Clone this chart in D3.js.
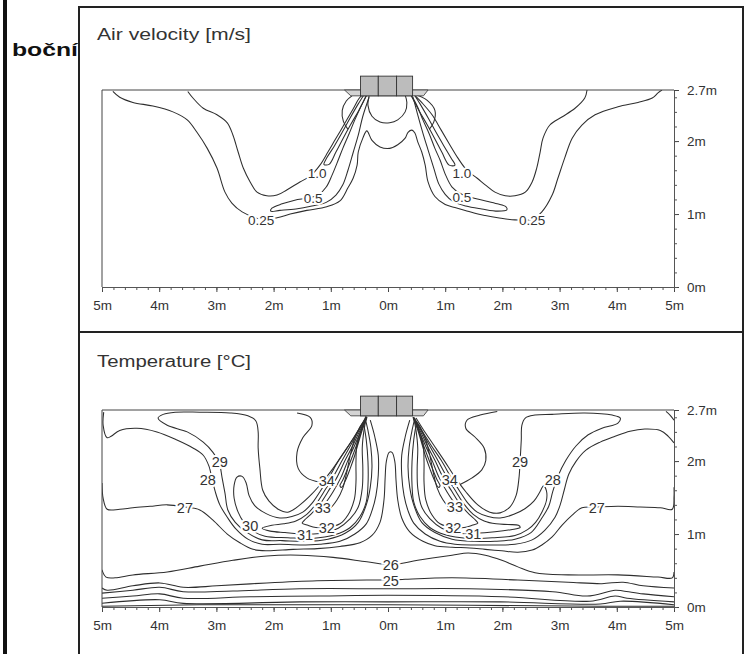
<!DOCTYPE html>
<html>
<head>
<meta charset="utf-8">
<script src="https://cdn.jsdelivr.net/npm/d3@7"></script>
<style>
  body { margin: 0; background: #fff; }
  svg { display: block; }
  text { font-family: "Liberation Sans", Arial, sans-serif; }
</style>
</head>
<body>
<svg id="chart" width="753" height="654"></svg>
<script>
// ---------- axis and text content ----------
const X_TICKS = [-5, -4, -3, -2, -1, 0, 1, 2, 3, 4, 5];   // room width, m
const Y_TICKS = [0, 1, 2, 2.7];                            // room height, m
const SIDE_CAPTION = "boční";
const TITLE_VELOCITY = "Air velocity [m/s]";
const TITLE_TEMPERATURE = "Temperature [°C]";

// diffuser geometry under the ceiling (m)
const diffuserEdges = [-0.48, -0.17, 0.15, 0.43];
const diffuserTop = 2.89, diffuserBase = 2.62;
const plateTopSpan = [-0.76, 0.70], plateBottomSpan = [-0.65, 0.62];

// ---------- air velocity isolines, [x m, height m] ----------
const vel025 = [[-4.81,2.68],[-4.69,2.60],[-4.46,2.53],[-4.11,2.48],[-3.76,2.40],[-3.51,2.29],[-3.34,2.12],[-3.16,1.90],[-2.99,1.63],[-2.85,1.30],[-2.73,1.15],[-2.55,1.03],[-2.22,0.93],[-1.94,0.95],[-1.71,1.00],[-1.42,1.05],[-1.07,1.10],[-0.84,1.18],[-0.70,1.36],[-0.61,1.49],[-0.54,1.67],[-0.52,1.85],[-0.44,2.04],[-0.37,2.14],[-0.28,2.01],[-0.14,1.92],[0.03,1.90],[0.17,1.95],[0.30,2.04],[0.35,2.12],[0.42,2.15],[0.47,2.11],[0.52,1.99],[0.59,1.85],[0.65,1.67],[0.70,1.44],[0.82,1.24],[1.00,1.13],[1.17,1.09],[1.35,1.05],[1.52,1.01],[1.70,0.98],[1.92,0.95],[2.22,0.92],[2.52,0.93],[2.69,1.03],[2.87,1.26],[2.97,1.49],[3.09,1.77],[3.22,2.04],[3.39,2.22],[3.62,2.36],[4.02,2.47],[4.37,2.53],[4.62,2.59],[4.72,2.66],[4.79,2.70]];
const velOuterL = [[-3.50,2.68],[-3.41,2.59],[-3.23,2.45],[-2.99,2.36],[-2.81,2.25],[-2.71,2.08],[-2.62,1.85],[-2.53,1.63],[-2.41,1.44],[-2.29,1.30],[-2.12,1.25],[-1.94,1.26],[-1.77,1.33],[-1.54,1.44],[-1.36,1.52],[-1.19,1.67],[-1.05,1.85],[-0.93,2.01],[-0.75,2.25],[-0.61,2.44],[-0.51,2.58],[-0.44,2.64]];
const velOuterR = [[3.48,2.70],[3.44,2.59],[3.27,2.45],[3.04,2.33],[2.83,2.22],[2.71,2.04],[2.66,1.85],[2.60,1.63],[2.52,1.44],[2.40,1.30],[2.22,1.25],[2.05,1.25],[1.87,1.30],[1.70,1.40],[1.56,1.49],[1.38,1.60],[1.22,1.77],[1.08,1.95],[0.93,2.15],[0.77,2.36],[0.60,2.52],[0.45,2.64]];
const vel10L = [[-0.40,2.66],[-0.52,2.51],[-0.66,2.32],[-0.80,2.12],[-0.94,1.93],[-1.07,1.77],[-1.12,1.68],[-1.03,1.68],[-0.91,1.85],[-0.79,2.03],[-0.65,2.23],[-0.51,2.42],[-0.37,2.63]];
const vel10R = [[0.44,2.66],[0.56,2.51],[0.70,2.32],[0.84,2.12],[0.98,1.93],[1.10,1.77],[1.17,1.67],[1.07,1.67],[0.94,1.85],[0.82,2.03],[0.68,2.23],[0.54,2.42],[0.40,2.63]];
const vel05L = [[-0.37,2.64],[-0.47,2.48],[-0.58,2.29],[-0.68,2.10],[-0.79,1.90],[-0.87,1.74],[-0.98,1.53],[-1.08,1.37],[-1.22,1.26],[-1.40,1.22],[-1.63,1.19],[-1.85,1.14],[-2.03,1.08],[-2.05,1.04],[-1.89,1.05],[-1.61,1.07],[-1.33,1.11],[-1.08,1.16],[-0.91,1.26],[-0.79,1.40],[-0.70,1.60],[-0.61,1.84],[-0.52,2.08],[-0.44,2.34],[-0.33,2.60]];
const vel05R = [[0.40,2.64],[0.51,2.48],[0.61,2.29],[0.72,2.10],[0.82,1.90],[0.91,1.74],[1.01,1.53],[1.12,1.37],[1.29,1.27],[1.49,1.22],[1.71,1.18],[1.91,1.14],[2.06,1.10],[2.08,1.06],[1.92,1.04],[1.64,1.07],[1.36,1.11],[1.14,1.17],[1.00,1.27],[0.89,1.41],[0.80,1.63],[0.70,1.88],[0.61,2.11],[0.52,2.36],[0.44,2.60]];
const velLobeL = [[-0.63,2.62],[-0.73,2.55],[-0.80,2.42],[-0.78,2.27],[-0.70,2.16]];
const velLobeR = [[0.50,2.63],[0.68,2.56],[0.82,2.42],[0.80,2.26],[0.72,2.16]];
const velCore = [[-0.33,2.62],[-0.35,2.49],[-0.28,2.34],[-0.14,2.26],[0.03,2.25],[0.17,2.29],[0.30,2.40],[0.33,2.53],[0.30,2.63]];
const velLabels = [
  {t:"1.0", x:-1.24, y:1.56}, {t:"0.5", x:-1.31, y:1.22}, {t:"0.25", x:-2.22, y:0.92},
  {t:"1.0", x:1.29, y:1.56},  {t:"0.5", x:1.29, y:1.23},  {t:"0.25", x:2.52, y:0.92}
];

// ---------- temperature isotherms, [x m, height m] ----------
const t25 = [[-5.00,0.26],[-4.91,0.23],[-4.46,0.29],[-3.99,0.33],[-3.58,0.27],[-2.99,0.29],[-2.12,0.33],[-1.24,0.36],[-0.37,0.37],[0.05,0.37],[0.30,0.38],[1.12,0.40],[2.27,0.37],[3.15,0.34],[3.74,0.32],[4.11,0.34],[4.46,0.29],[5.00,0.26]];
const t26 = [[-5.00,0.51],[-4.93,0.41],[-4.77,0.40],[-4.46,0.44],[-3.86,0.48],[-3.29,0.56],[-2.71,0.64],[-2.12,0.70],[-1.54,0.71],[-0.96,0.68],[-0.37,0.62],[0.05,0.58],[0.52,0.64],[1.12,0.71],[1.40,0.74],[1.70,0.71],[1.99,0.64],[2.27,0.55],[2.57,0.47],[3.15,0.44],[4.02,0.44],[4.72,0.41],[4.97,0.40],[5.00,0.48]];
const t24 = [[-5.00,0.19],[-4.46,0.23],[-3.99,0.27],[-3.58,0.21],[-2.71,0.22],[-1.54,0.25],[0.00,0.25],[1.43,0.25],[2.88,0.21],[3.48,0.15],[3.97,0.23],[4.11,0.22],[4.46,0.18],[5.00,0.14]];
const t23 = [[-5.00,0.12],[-4.46,0.15],[-3.99,0.18],[-3.58,0.12],[-2.41,0.14],[-1.19,0.15],[0.00,0.16],[2.01,0.14],[3.53,0.08],[3.97,0.15],[4.18,0.12],[5.00,0.07]];
const t22 = [[-5.00,0.05],[-3.99,0.10],[-3.58,0.05],[-1.54,0.07],[0.00,0.07],[1.96,0.07],[3.71,0.04],[4.06,0.08],[5.00,0.03]];
const t21 = [[-5.00,0.01],[-3.29,0.03],[0.00,0.03],[3.71,0.01],[5.00,0.01]];
const t27 = [[-5.00,1.70],[-4.98,1.49],[-4.91,1.34],[-4.69,1.34],[-4.46,1.36],[-4.16,1.38],[-3.86,1.40],[-3.55,1.37],[-3.29,1.33],[-3.06,1.19],[-2.81,1.00],[-2.59,0.88],[-2.36,0.79],[-2.12,0.77],[-1.66,0.79],[-1.24,0.80],[-0.84,0.83],[-0.49,0.88],[-0.28,0.98],[-0.14,1.16],[-0.07,1.47],[-0.05,1.77],[-0.03,1.99],[0.02,2.12],[0.07,2.12],[0.12,1.99],[0.14,1.74],[0.17,1.47],[0.24,1.22],[0.38,1.03],[0.61,0.90],[0.82,0.84],[1.12,0.82],[1.43,0.81],[1.70,0.79],[1.99,0.77],[2.27,0.75],[2.52,0.78],[2.69,0.85],[2.87,0.96],[3.04,1.12],[3.22,1.26],[3.39,1.36],[3.65,1.37],[4.02,1.38],[4.41,1.37],[4.76,1.36],[4.97,1.34],[5.00,1.51],[5.00,1.64]];
const t28L = [[-4.97,2.67],[-4.98,2.49],[-4.91,2.32],[-4.84,2.34],[-4.69,2.42],[-4.39,2.45],[-4.04,2.40],[-3.69,2.29],[-3.41,2.18],[-3.23,2.08],[-3.13,1.93],[-3.08,1.77],[-3.02,1.58],[-2.94,1.40],[-2.81,1.23],[-2.66,1.07],[-2.45,0.93],[-2.20,0.86],[-1.89,0.86],[-1.54,0.85],[-1.19,0.86],[-0.84,0.90],[-0.58,1.00],[-0.38,1.14],[-0.28,1.32],[-0.21,1.53],[-0.17,1.81],[-0.17,2.08],[-0.23,2.33],[-0.31,2.56]];
const t28R = [[5.00,2.25],[4.90,2.34],[4.76,2.42],[4.49,2.44],[4.23,2.41],[3.97,2.34],[3.71,2.26],[3.46,2.15],[3.29,2.00],[3.16,1.82],[3.08,1.60],[3.01,1.40],[2.92,1.23],[2.74,1.05],[2.52,0.92],[2.22,0.86],[1.87,0.85],[1.52,0.85],[1.17,0.86],[0.91,0.90],[0.65,1.00],[0.45,1.15],[0.35,1.32],[0.28,1.53],[0.24,1.81],[0.24,2.08],[0.30,2.33],[0.38,2.56]];
const t28Corner = [[4.86,2.68],[4.93,2.63],[5.00,2.56]];
const t29L = [[-0.38,2.62],[-0.45,2.51],[-0.59,2.33],[-0.77,2.12],[-0.96,1.90],[-1.15,1.71],[-1.33,1.55],[-1.54,1.40],[-1.75,1.30],[-1.92,1.34],[-2.08,1.45],[-2.19,1.60],[-2.24,1.90],[-2.27,2.18],[-2.27,2.40],[-2.31,2.55],[-2.45,2.62],[-2.76,2.66],[-3.29,2.67],[-3.72,2.67],[-3.93,2.64],[-4.02,2.59],[-3.86,2.49],[-3.51,2.40],[-3.23,2.26],[-3.06,2.12],[-2.95,1.97],[-2.90,1.77],[-2.85,1.56],[-2.80,1.33],[-2.67,1.16],[-2.48,1.03],[-2.20,0.92],[-1.85,0.91],[-1.45,0.90],[-1.05,0.93],[-0.75,1.01],[-0.52,1.16],[-0.38,1.40],[-0.31,1.64],[-0.28,1.92],[-0.30,2.19],[-0.35,2.42],[-0.40,2.59]];
const t29R = [[0.49,2.59],[0.61,2.44],[0.79,2.23],[0.98,2.01],[1.17,1.78],[1.36,1.58],[1.57,1.40],[1.78,1.30],[1.96,1.29],[2.13,1.37],[2.24,1.53],[2.29,1.77],[2.31,2.01],[2.33,2.29],[2.34,2.49],[2.40,2.59],[2.57,2.63],[2.87,2.64],[3.44,2.66],[3.92,2.63],[4.06,2.59],[4.02,2.52],[3.74,2.45],[3.50,2.36],[3.29,2.21],[3.11,2.01],[2.97,1.79],[2.88,1.58],[2.81,1.38],[2.69,1.22],[2.50,1.02],[2.22,0.93],[1.87,0.90],[1.52,0.90],[1.12,0.93],[0.82,1.02],[0.59,1.16],[0.45,1.40],[0.38,1.64],[0.35,1.92],[0.37,2.19],[0.42,2.42],[0.47,2.59]];
const t30L = [[-0.38,2.60],[-0.52,2.42],[-0.68,2.22],[-0.86,2.01],[-1.03,1.78],[-1.19,1.58],[-1.33,1.42],[-1.49,1.30],[-1.68,1.24],[-1.89,1.22],[-2.13,1.28],[-2.33,1.39],[-2.43,1.53],[-2.48,1.70],[-2.55,1.79],[-2.64,1.78],[-2.69,1.67],[-2.69,1.49],[-2.62,1.30],[-2.52,1.16],[-2.38,1.05],[-2.15,0.97],[-1.75,0.95],[-1.33,0.94],[-0.93,0.99],[-0.66,1.09],[-0.49,1.24],[-0.38,1.44],[-0.35,1.67],[-0.35,1.99],[-0.38,2.29],[-0.42,2.49]];
const t30R = [[0.45,2.60],[0.59,2.42],[0.75,2.22],[0.93,2.01],[1.10,1.78],[1.26,1.58],[1.40,1.42],[1.56,1.30],[1.75,1.24],[1.96,1.22],[2.20,1.27],[2.40,1.35],[2.55,1.45],[2.65,1.57],[2.72,1.66],[2.77,1.59],[2.77,1.46],[2.69,1.30],[2.58,1.16],[2.44,1.06],[2.22,0.98],[1.82,0.95],[1.40,0.94],[1.00,0.99],[0.73,1.09],[0.56,1.24],[0.45,1.44],[0.42,1.67],[0.42,1.99],[0.45,2.29],[0.49,2.49]];
const t31L = [[-0.37,2.60],[-0.51,2.42],[-0.65,2.22],[-0.80,2.01],[-0.96,1.78],[-1.12,1.58],[-1.26,1.41],[-1.42,1.27],[-1.61,1.18],[-1.82,1.14],[-2.03,1.12],[-2.20,1.08],[-2.06,1.04],[-1.80,1.02],[-1.45,1.00],[-1.15,1.01],[-0.87,1.08],[-0.66,1.21],[-0.52,1.37],[-0.45,1.63],[-0.44,1.90],[-0.45,2.18],[-0.42,2.42],[-0.38,2.59]];
const t31R = [[0.44,2.60],[0.58,2.42],[0.72,2.22],[0.87,2.01],[1.03,1.78],[1.19,1.58],[1.33,1.41],[1.49,1.27],[1.68,1.18],[1.89,1.14],[2.10,1.13],[2.28,1.12],[2.31,1.09],[2.15,1.06],[1.87,1.03],[1.52,1.01],[1.22,1.01],[0.94,1.08],[0.73,1.21],[0.59,1.37],[0.52,1.63],[0.51,1.90],[0.52,2.18],[0.49,2.42],[0.45,2.59]];
const t32L = [[-0.37,2.60],[-0.49,2.42],[-0.61,2.22],[-0.75,2.01],[-0.89,1.78],[-1.05,1.58],[-1.19,1.41],[-1.35,1.27],[-1.46,1.19],[-1.50,1.15],[-1.40,1.12],[-1.26,1.09],[-1.07,1.09],[-0.84,1.14],[-0.70,1.26],[-0.59,1.47],[-0.56,1.71],[-0.56,1.99],[-0.54,2.25],[-0.45,2.45],[-0.38,2.59]];
const t32R = [[0.44,2.60],[0.56,2.42],[0.68,2.22],[0.82,2.01],[0.96,1.78],[1.12,1.58],[1.26,1.41],[1.42,1.27],[1.53,1.19],[1.57,1.15],[1.47,1.12],[1.33,1.09],[1.14,1.09],[0.91,1.14],[0.77,1.26],[0.66,1.47],[0.63,1.71],[0.63,1.99],[0.61,2.25],[0.52,2.45],[0.45,2.59]];
const t33L = [[-0.37,2.60],[-0.47,2.42],[-0.58,2.22],[-0.70,2.01],[-0.82,1.78],[-0.96,1.58],[-1.10,1.42],[-1.22,1.33],[-1.19,1.29],[-1.03,1.34],[-0.89,1.47],[-0.79,1.63],[-0.72,1.85],[-0.66,2.08],[-0.59,2.29],[-0.49,2.47],[-0.38,2.59]];
const t33R = [[0.44,2.60],[0.54,2.42],[0.65,2.22],[0.77,2.01],[0.89,1.78],[1.03,1.58],[1.17,1.42],[1.29,1.33],[1.26,1.29],[1.10,1.34],[0.96,1.47],[0.86,1.63],[0.79,1.85],[0.73,2.08],[0.66,2.29],[0.56,2.47],[0.45,2.59]];
const t34L = [[-0.37,2.60],[-0.44,2.45],[-0.53,2.26],[-0.62,2.07],[-0.71,1.89],[-0.79,1.74],[-0.84,1.66],[-0.81,1.64],[-0.74,1.74],[-0.66,1.90],[-0.58,2.08],[-0.51,2.27],[-0.44,2.45],[-0.37,2.59]];
const t34R = [[0.44,2.60],[0.51,2.45],[0.60,2.26],[0.69,2.07],[0.78,1.89],[0.86,1.74],[0.91,1.66],[0.88,1.64],[0.81,1.74],[0.73,1.90],[0.65,2.08],[0.58,2.27],[0.51,2.45],[0.44,2.59]];
const tLobeL = [[-1.59,2.66],[-1.36,2.60],[-1.33,2.49],[-1.49,2.32],[-1.59,2.12],[-1.57,1.90],[-1.42,1.77],[-1.19,1.71]];
const tLobeR = [[1.91,2.68],[1.61,2.63],[1.38,2.56],[1.36,2.45],[1.52,2.33],[1.68,2.18],[1.71,2.01],[1.64,1.88],[1.47,1.77],[1.26,1.68]];
const tempLabels = [
  {t:"29", x:-2.94, y:1.99}, {t:"28", x:-3.15, y:1.74}, {t:"27", x:-3.55, y:1.36},
  {t:"30", x:-2.41, y:1.12}, {t:"31", x:-1.45, y:0.99}, {t:"32", x:-1.07, y:1.08},
  {t:"33", x:-1.14, y:1.36}, {t:"34", x:-1.07, y:1.73},
  {t:"26", x:0.05, y:0.58},  {t:"25", x:0.05, y:0.36},
  {t:"34", x:1.08, y:1.74},  {t:"33", x:1.17, y:1.37}, {t:"32", x:1.14, y:1.08},
  {t:"31", x:1.49, y:1.01},  {t:"29", x:2.31, y:1.99}, {t:"28", x:2.88, y:1.74},
  {t:"27", x:3.65, y:1.36}
];

const velocityLines = [vel025, velOuterL, velOuterR, vel10L, vel10R, vel05L, vel05R, velLobeL, velLobeR, velCore];
const temperatureLines = [t21, t22, t23, t24, t25, t26, t27, t28L, t28R, t28Corner, t29L, t29R,
  t30L, t30R, t31L, t31R, t32L, t32R, t33L, t33R, t34L, t34R, tLobeL, tLobeR];

// ---------- drawing ----------
const W = 753, H = 654;
const INK = "#333";
const svg = d3.select("#chart");

svg.append("rect").attr("width", W).attr("height", H).attr("fill", "#fff");

// caption to the left of the figure frame
svg.append("text")
  .attr("x", 12).attr("y", 56)
  .attr("font-size", 19).attr("font-weight", "bold").attr("fill", "#111")
  .attr("textLength", 66).attr("lengthAdjust", "spacingAndGlyphs")
  .text(SIDE_CAPTION);

svg.append("rect").attr("x", 3).attr("y", 0).attr("width", 4).attr("height", H).attr("fill", "#111");

// figure frame with the two stacked panels
svg.append("rect")
  .attr("x", 79).attr("y", 7).attr("width", 664).attr("height", H + 10)
  .attr("fill", "#fff").attr("stroke", "#222").attr("stroke-width", 2);
svg.append("line")
  .attr("x1", 79).attr("x2", 743).attr("y1", 332).attr("y2", 332)
  .attr("stroke", "#222").attr("stroke-width", 2);

const x = d3.scaleLinear().domain([-5, 5]).range([102, 674]);

function drawPanel(id, topPx, title, titleY, lines, labels, labelSize) {
  const y = d3.scaleLinear().domain([0, 2.7]).range([topPx + 197, topPx]);
  const g = svg.append("g");

  g.append("text")
    .attr("x", 97).attr("y", titleY)
    .attr("font-size", 16).attr("fill", INK)
    .attr("textLength", 154).attr("lengthAdjust", "spacingAndGlyphs")
    .text(title);

  g.append("clipPath").attr("id", id)
    .append("rect")
    .attr("x", x(-5)).attr("y", y(2.7))
    .attr("width", x(5) - x(-5)).attr("height", y(0) - y(2.7));

  const line = d3.line()
    .x(d => x(d[0])).y(d => y(d[1]))
    .curve(d3.curveCatmullRom.alpha(0.5));

  g.append("g").attr("clip-path", `url(#${id})`)
    .selectAll("path").data(lines).join("path")
    .attr("d", line)
    .attr("fill", "none").attr("stroke", "#2e2e2e").attr("stroke-width", 1.05)
    .attr("stroke-linejoin", "round");

  g.append("g").selectAll("text").data(labels).join("text")
    .attr("x", d => x(d.x)).attr("y", d => y(d.y))
    .attr("dy", "0.36em").attr("text-anchor", "middle")
    .attr("font-size", labelSize).attr("fill", INK)
    .attr("stroke", "#fff").attr("stroke-width", 4).attr("paint-order", "stroke")
    .text(d => d.t);

  // plot border (left and top)
  g.append("path")
    .attr("d", `M${x(-5)},${y(0)}V${y(2.7)}H${x(5)}`)
    .attr("fill", "none").attr("stroke", "#444").attr("stroke-width", 1);

  // diffuser hanging from the ceiling
  const plate = [[plateTopSpan[0], 2.70], [plateTopSpan[1], 2.70], [plateBottomSpan[1], diffuserBase], [plateBottomSpan[0], diffuserBase]];
  g.append("path")
    .attr("d", d3.line().x(d => x(d[0])).y(d => y(d[1]))(plate) + "Z")
    .attr("fill", "#d4d4d4").attr("stroke", "#444").attr("stroke-width", 0.9);
  g.append("g").selectAll("rect").data(d3.pairs(diffuserEdges)).join("rect")
    .attr("x", d => x(d[0])).attr("width", d => x(d[1]) - x(d[0]))
    .attr("y", y(diffuserTop)).attr("height", y(diffuserBase) - y(diffuserTop))
    .attr("fill", "#bcbcbc").attr("stroke", "#333").attr("stroke-width", 0.9);

  const styleText = s => s.selectAll("text")
    .attr("font-size", 13.5).attr("fill", INK)
    .attr("font-family", '"Liberation Sans", Arial, sans-serif');

  // bottom axis: metres from the room centre
  g.append("g").attr("transform", `translate(0,${y(0)})`)
    .call(d3.axisBottom(x).tickValues(X_TICKS).tickFormat(d => Math.abs(d) + "m")
      .tickSize(5).tickPadding(8).tickSizeOuter(0))
    .call(s => s.select(".domain").attr("stroke", "#555"))
    .call(s => s.selectAll(".tick line").attr("stroke", "#444"))
    .call(styleText);
  g.append("g").attr("transform", `translate(0,${y(0)})`)
    .call(d3.axisBottom(x).tickValues(d3.range(-5, 5.001, 0.2)).tickFormat("").tickSize(3).tickSizeOuter(0))
    .call(s => s.select(".domain").remove())
    .call(s => s.selectAll(".tick line").attr("stroke", "#555"));

  // right axis: height above the floor
  g.append("g").attr("transform", `translate(${x(5)},0)`)
    .call(d3.axisRight(y).tickValues(Y_TICKS).tickFormat(d => d + "m")
      .tickSize(5).tickPadding(8).tickSizeOuter(0))
    .call(s => s.select(".domain").attr("stroke", "#555"))
    .call(s => s.selectAll(".tick line").attr("stroke", "#444"))
    .call(styleText);
  g.append("g").attr("transform", `translate(${x(5)},0)`)
    .call(d3.axisRight(y).tickValues(d3.range(0, 2.69, 0.2)).tickFormat("").tickSize(3).tickSizeOuter(0))
    .call(s => s.select(".domain").remove())
    .call(s => s.selectAll(".tick line").attr("stroke", "#555"));
}

drawPanel("clipVel", 90, TITLE_VELOCITY, 40, velocityLines, velLabels, 13.5);
drawPanel("clipTemp", 410, TITLE_TEMPERATURE, 367, temperatureLines, tempLabels, 14.5);
</script>
</body>
</html>
